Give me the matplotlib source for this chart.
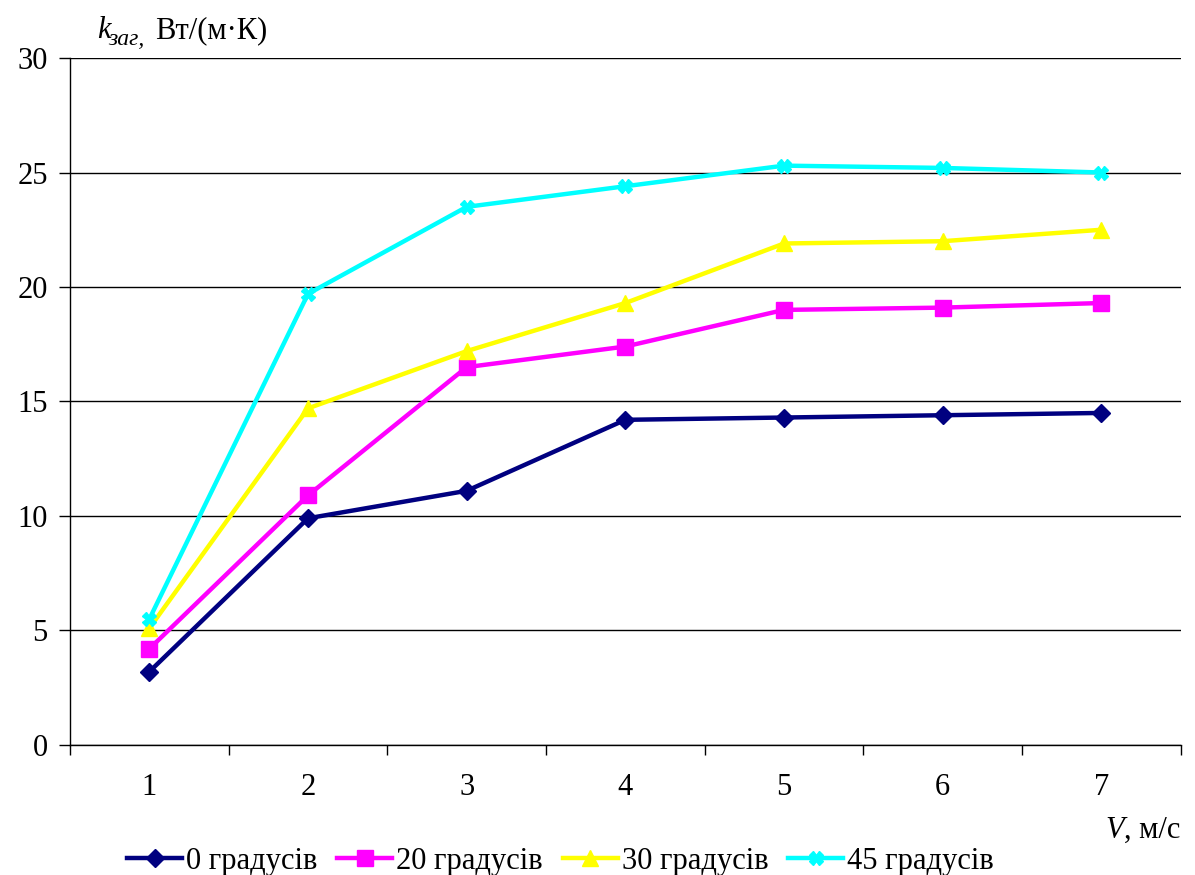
import matplotlib.pyplot as plt

plt.rcParams['font.family'] = ['Liberation Serif', 'DejaVu Serif']

# Швидкість повітря, м/с
speeds = [1, 2, 3, 4, 5, 6, 7]

# Коефіцієнт теплопередачі для різних кутів
k_0 = [3.2, 9.9, 11.1, 14.2, 14.3, 14.4, 14.5]
k_20 = [4.2, 10.9, 16.5, 17.4, 19.0, 19.1, 19.3]
k_30 = [5.1, 14.7, 17.2, 19.3, 21.9, 22.0, 22.5]
k_45 = [5.5, 19.7, 23.5, 24.4, 25.3, 25.2, 25.0]

labels = ['0 градусів', '20 градусів', '30 градусів', '45 градусів']
colors = ['#000080', '#ff00ff', '#ffff00', '#00ffff']
markers = ['D', 's', '^', 'X']
msizes = [9, 11, 11, 10]

fig = plt.figure(figsize=(11.95, 8.75), dpi=100)
ax = fig.add_axes([0.0586, 0.1486, 0.9294, 0.7851])

for ys, lab, c, m, ms in zip([k_0, k_20, k_30, k_45], labels, colors, markers, msizes):
    ax.plot(speeds, ys, color=c, lw=3.2, marker=m, ms=ms, mec=c, mfc=c, label=lab, zorder=3)

ax.set_xlim(0.5, 7.5)
ax.set_ylim(0, 30)
ax.set_yticks(range(0, 31, 5))
ax.set_xticks(speeds)
ax.set_xticks([x + 0.5 for x in range(0, 8)], minor=True)
ax.tick_params(axis='x', which='major', length=0, pad=20, labelsize=22)
ax.tick_params(axis='x', which='minor', length=7, width=1)
ax.tick_params(axis='y', length=8, width=1, labelsize=22, pad=8)
ax.grid(axis='y', color='black', lw=1)
for side in ['top', 'right']:
    ax.spines[side].set_visible(False)
ax.spines['left'].set_linewidth(1)
ax.spines['bottom'].set_linewidth(1)

# Підпис осі Y зверху
fig.text(0.081, 0.956, 'k', fontsize=22, style='italic', va='baseline')
fig.text(0.091, 0.949, 'заг,', fontsize=17, style='italic', va='baseline')
fig.text(0.130, 0.956, 'Вт/(м·К)', fontsize=22, va='baseline')

# Підпис осі X
fig.text(0.925, 0.042, 'V', fontsize=22, style='italic', va='baseline')
fig.text(0.941, 0.042, ', м/с', fontsize=22, va='baseline')

fig.legend(loc='lower center', bbox_to_anchor=(0.469, -0.032), ncol=4, frameon=False,
           fontsize=22, handlelength=1.8, handletextpad=0.13, columnspacing=0.65)

fig.savefig('out.png', dpi=100)
